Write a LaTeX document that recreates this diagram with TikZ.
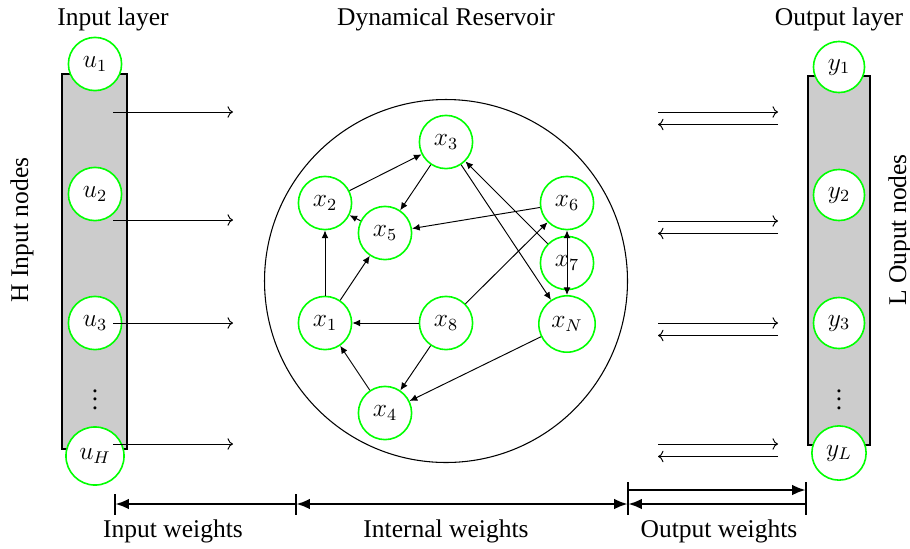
\documentclass[tikz,border=0pt]{standalone}
\usepackage{fontspec}
\setmainfont{Liberation Serif}
\usetikzlibrary{arrows.meta}

\begin{document}
\begin{tikzpicture}[x=0.47pt, y=-0.47pt, font=\fontsize{12}{14.4}\selectfont,
  unit/.style={circle, draw=green, line width=0.75pt, fill=white, inner sep=0pt, minimum size=25pt},
  layerbar/.style={draw=black, line width=0.8pt, fill=black!20},
  feed/.style={->, line width=0.45pt},
  link/.style={-{Latex[length=3.6pt,width=3.2pt]}, line width=0.45pt},
  bilink/.style={{Latex[length=3.6pt,width=3.2pt]}-{Latex[length=3.6pt,width=3.2pt]}, line width=0.45pt},
  span/.style={line width=1.3pt},
  spantip/.style={span, -{Latex[length=6.5pt,width=5pt]}},
  bispantip/.style={span, {Latex[length=6.5pt,width=5pt]}-{Latex[length=6.5pt,width=5pt]}},
]
\useasboundingbox (0,0) rectangle (910,548);

% titles
\node (intitle)  at (113,19) {Input layer};
\node (restitle) at (446,19) {Dynamical Reservoir};
\node (outtitle) at (839,19) {Output layer};
\node[rotate=90] (insize)  at (22,230)  {H Input nodes};
\node[rotate=90] (outsize) at (900,230) {L Ouput nodes};

% input and output layers
\draw[layerbar] (62,74) rectangle (127,449);
\draw[layerbar] (808,76) rectangle (870,445);

\node[unit] (u1) at (95,64)  {$u_1$};
\node[unit] (u2) at (95,194) {$u_2$};
\node[unit] (u3) at (95,323) {$u_3$};
\node (udots) at (95,393) {$\vdots$};
\node[unit, minimum size=27.3pt] (uH) at (95,456) {$u_H$};

\node[unit, minimum size=24pt] (y1) at (839,67)  {$y_1$};
\node[unit, minimum size=24pt] (y2) at (839,195) {$y_2$};
\node[unit, minimum size=24pt] (y3) at (839,323) {$y_3$};
\node (ydots) at (839,393) {$\vdots$};
\node[unit, minimum size=25.5pt] (yL) at (839,453) {$y_L$};

% input connections
\foreach \i/\yy in {1/112, 2/220, 3/323, 4/444} {
  \coordinate (ia\i) at (113,\yy);
  \coordinate (ib\i) at (233,\yy);
  \draw[feed] (ia\i) -- (ib\i);
}

% output connections (both directions)
\foreach \i/\yy in {1/112, 2/221, 3/323, 4/444} {
  \coordinate (oa\i) at (658,\yy);
  \coordinate (ob\i) at (778,\yy);
  \coordinate (oc\i) at (658,\yy+12.5);
  \coordinate (od\i) at (778,\yy+12.5);
  \draw[feed] (oa\i) -- (ob\i);
  \draw[feed] (od\i) -- (oc\i);
}

% reservoir
\node[circle, draw, line width=0.5pt, minimum size=170.6pt, inner sep=0pt] (res) at (446,281) {};

\node[unit] (x3) at (446,142) {$x_3$};
\node[unit] (x2) at (325,203) {$x_2$};
\node[unit] (x5) at (385,233) {$x_5$};
\node[unit] (x6) at (567,203) {$x_6$};
\node[unit] (x7) at (567,263) {$x_7$};
\node[unit] (x1) at (325,323) {$x_1$};
\node[unit] (x8) at (446,323) {$x_8$};
\node[unit, minimum size=26.5pt] (xN) at (567,324) {$x_N$};
\node[unit] (x4) at (385,413) {$x_4$};

\draw[link] (x2) -- (x3);
\draw[link] (x3) -- (x5);
\draw[link] (x5) -- (x2);
\draw[link] (x1) -- (x2);
\draw[link] (x1) -- (x5);
\draw[link] (x8) -- (x1);
\draw[link] (x8) -- (x6);
\draw[link] (x8) -- (x4);
\draw[link] (x4) -- (x1);
\draw[link] (xN) -- (x4);
\draw[link] (x6) -- (x5);
\draw[link] (x7) -- (x3);
\draw[link] (x3) -- (xN);
\draw[bilink] (x6.south) -- (xN.north);

% weight spans
\coordinate (w0) at (115,504);
\coordinate (w1) at (296,504);
\coordinate (w2) at (628,504);
\coordinate (w3) at (806,504);
\coordinate (v2) at (628,490);
\coordinate (v3) at (806,490);
\draw[span] (115,494) -- (115,515);
\draw[span] (296,494) -- (296,515);
\draw[span] (628,482) -- (628,515);
\draw[span] (806,482) -- (806,515);
\draw[spantip] (w1) -- (w0);
\draw[bispantip] (w1) -- (w2);
\draw[spantip] (v2) -- (v3);
\draw[spantip] (w3) -- (w2);

\node (inw)  at (173,531) {Input weights};
\node (intw) at (446,531) {Internal weights};
\node (outw) at (719,531) {Output weights};
\end{tikzpicture}
\end{document}
